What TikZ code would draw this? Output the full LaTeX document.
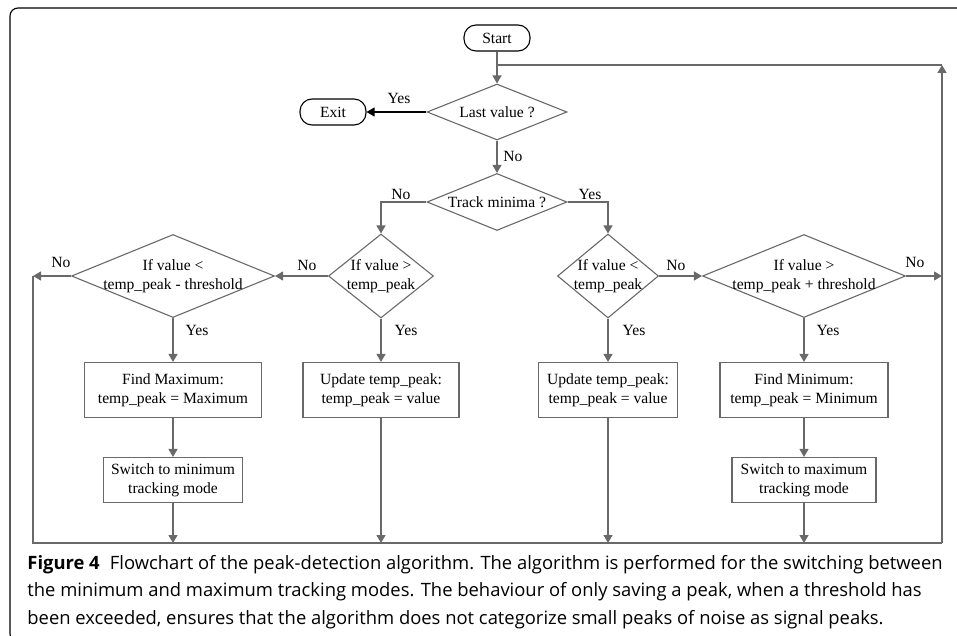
\documentclass[tikz,border=0pt]{standalone}
\usepackage{fontspec}
\setmainfont{Liberation Serif}
\newfontfamily\capfont{Open Sans}
\usetikzlibrary{arrows.meta,positioning,calc,shapes.geometric}
\definecolor{flowgray}{RGB}{105,105,105}

\begin{document}
\begin{tikzpicture}[x=0.5pt,y=-0.5pt,
  font=\fontsize{7.8pt}{9.5pt}\selectfont,
  process/.style={draw=flowgray,line width=0.55pt,rectangle,align=center,inner sep=0pt,
    minimum height=27.5pt},
  switchbox/.style={process,minimum height=22.5pt},
  terminal/.style={draw=black,line width=0.55pt,rounded corners=6pt,minimum width=33pt,
    minimum height=13pt,inner sep=0pt},
  decision/.style={draw=flowgray,line width=0.55pt,diamond,inner sep=0pt},
  dtext/.style={align=center,inner sep=0pt},
  line/.style={-{Triangle[length=4pt,width=4.5pt]},line width=0.65pt,draw=flowgray},
  rail/.style={line width=0.65pt,draw=flowgray},
  note/.style={inner sep=0pt}]
\useasboundingbox (0,0) rectangle (957,636);
\draw[black,line width=0.55pt,rounded corners=4pt] (957,8) -| (10,642) -- (40,642);
\node[terminal] (start) at (497,38) {Start};
\node[terminal] (exit) at (333,112) {Exit};
\node[decision,minimum width=70pt,minimum height=28pt,
  label={[dtext]center:Last value ?}] (lastval) at (497,112) {};
\node[decision,minimum width=70pt,minimum height=28.5pt,
  label={[dtext]center:Track minima ?}] (trackmin) at (497,202) {};
\node[decision,minimum width=101.5pt,minimum height=41.5pt,
  label={[dtext]center:If value <\\temp\_peak - threshold}] (thrmax) at (173,276) {};
\node[decision,minimum width=52.5pt,minimum height=42pt,
  label={[dtext]center:If value >\\temp\_peak}] (gtpeak) at (381,276) {};
\node[decision,minimum width=50.5pt,minimum height=42pt,
  label={[dtext]center:If value <\\temp\_peak}] (ltpeak) at (608,276) {};
\node[decision,minimum width=101.5pt,minimum height=41.5pt,
  label={[dtext]center:If value >\\temp\_peak + threshold}] (thrmin) at (804,276) {};
\node[process,minimum width=88.5pt] (findmax) at (173,390) {Find Maximum:\\temp\_peak = Maximum};
\node[process,minimum width=78pt] (updmax) at (381,390) {Update temp\_peak:\\temp\_peak = value};
\node[process,minimum width=69.5pt] (updmin) at (608,390) {Update temp\_peak:\\temp\_peak = value};
\node[process,minimum width=84pt] (findmin) at (804,390) {Find Minimum:\\temp\_peak = Minimum};
\node[switchbox,minimum width=69.5pt] (swmin) at (173,480) {Switch to minimum\\tracking mode};
\node[switchbox,minimum width=72pt] (swmax) at (804,480) {Switch to maximum\\tracking mode};
\coordinate (leftrail) at (33,276);
\coordinate (rightrail) at (942,276);
\coordinate (bottomleft) at (33,543);
\coordinate (bottomright) at (942,543);
\coordinate (looptop) at (942,65);
\coordinate (loopjoin) at (497,65);
\node[note] (yesexit) at (399,98) {Yes};
\node[note] (nolast) at (513,156) {No};
\node[note] (notrack) at (401,194) {No};
\node[note] (yestrack) at (590,194) {Yes};
\node[note] (nothrmax) at (61,262) {No};
\node[note] (nogtpeak) at (307,265) {No};
\node[note] (noltpeak) at (676,265) {No};
\node[note] (nothrmin) at (915,262) {No};
\node[note] (yesthrmax) at (197,330) {Yes};
\node[note] (yesgtpeak) at (406,330) {Yes};
\node[note] (yesltpeak) at (634,330) {Yes};
\node[note] (yesthrmin) at (828,330) {Yes};
\node[note,anchor=north west,align=left,font=\capfont\fontsize{9.2pt}{13.7pt}\selectfont]
  (caption) at (27,555) {\textbf{Figure 4}\hspace{0.55em}Flowchart of the peak-detection algorithm. The algorithm is performed for the switching between\\
the minimum and maximum tracking modes. The behaviour of only saving a peak, when a threshold has\\
been exceeded, ensures that the algorithm does not categorize small peaks of noise as signal peaks.};
\draw[line] (start)--(lastval);
\draw[line,draw=black] (lastval.west)--(exit.east);
\draw[line] (lastval)--(trackmin);
\draw[line] (trackmin.west) -| (gtpeak.north);
\draw[line] (trackmin.east) -| (ltpeak.north);
\draw[line] (gtpeak.west)--(thrmax.east);
\draw[line] (thrmax.west)--(leftrail);
\draw[line] (ltpeak.east)--(thrmin.west);
\draw[line] (thrmin.east)--(rightrail);
\draw[line] (thrmax)--(findmax);
\draw[line] (findmax)--(swmin);
\draw[line] (gtpeak)--(updmax);
\draw[line] (ltpeak)--(updmin);
\draw[line] (thrmin)--(findmin);
\draw[line] (findmin)--(swmax);
\draw[line] (swmin.south)--(swmin.south |- bottomleft);
\draw[line] (updmax.south)--(updmax.south |- bottomleft);
\draw[line] (updmin.south)--(updmin.south |- bottomleft);
\draw[line] (swmax.south)--(swmax.south |- bottomleft);
\draw[rail] (leftrail)--(bottomleft)--(bottomright);
\draw[line] (bottomright)--(looptop);
\draw[rail] (looptop)--(loopjoin);
\end{tikzpicture}
\end{document}
